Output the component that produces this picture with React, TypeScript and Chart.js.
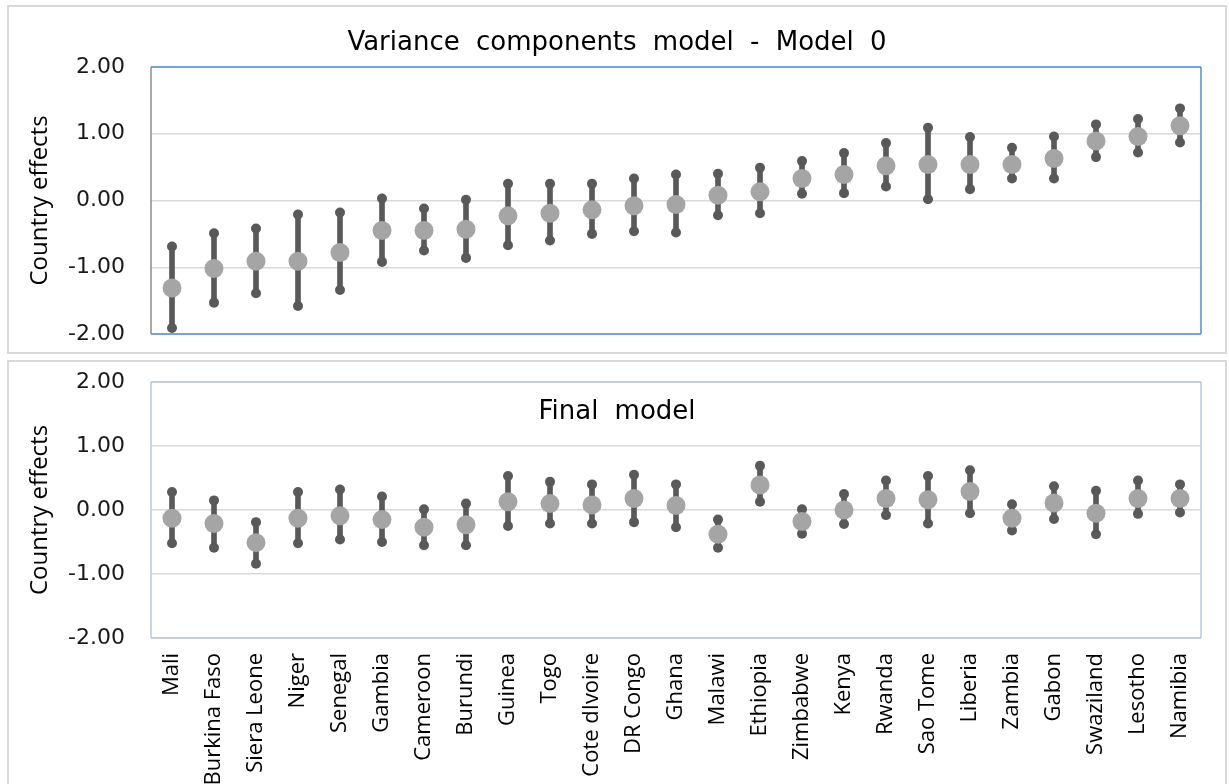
import React, { useEffect, useRef } from "react";
import { Chart, registerables } from "chart.js";

Chart.register(...registerables);

const countries = [
  "Mali", "Burkina Faso", "Siera Leone", "Niger", "Senegal", "Gambia", "Cameroon",
  "Burundi", "Guinea", "Togo", "Cote dIvoire", "DR Congo", "Ghana", "Malawi",
  "Ethiopia", "Zimbabwe", "Kenya", "Rwanda", "Sao Tome", "Liberia", "Zambia",
  "Gabon", "Swaziland", "Lesotho", "Namibia",
];

const model0Effect = [-1.31, -1.02, -0.91, -0.91, -0.78, -0.45, -0.45, -0.43, -0.23, -0.19, -0.14, -0.08, -0.06, 0.08, 0.13, 0.33, 0.39, 0.52, 0.54, 0.54, 0.54, 0.63, 0.89, 0.96, 1.12];
const model0Lower = [-1.91, -1.53, -1.39, -1.58, -1.34, -0.92, -0.75, -0.86, -0.67, -0.6, -0.5, -0.46, -0.48, -0.22, -0.19, 0.1, 0.11, 0.21, 0.02, 0.17, 0.33, 0.33, 0.65, 0.72, 0.87];
const model0Upper = [-0.69, -0.49, -0.42, -0.21, -0.18, 0.03, -0.12, 0.01, 0.25, 0.25, 0.25, 0.33, 0.39, 0.4, 0.49, 0.59, 0.71, 0.86, 1.09, 0.95, 0.79, 0.96, 1.14, 1.22, 1.38];

const finalEffect = [-0.13, -0.21, -0.51, -0.13, -0.09, -0.15, -0.27, -0.23, 0.13, 0.1, 0.08, 0.18, 0.07, -0.38, 0.39, -0.18, 0.0, 0.18, 0.16, 0.29, -0.13, 0.11, -0.05, 0.18, 0.18];
const finalLower = [-0.52, -0.59, -0.84, -0.52, -0.46, -0.5, -0.55, -0.55, -0.25, -0.21, -0.21, -0.19, -0.27, -0.59, 0.13, -0.37, -0.22, -0.08, -0.21, -0.05, -0.32, -0.14, -0.38, -0.06, -0.04];
const finalUpper = [0.28, 0.15, -0.19, 0.28, 0.32, 0.21, 0.01, 0.1, 0.53, 0.44, 0.4, 0.55, 0.4, -0.15, 0.69, 0.01, 0.25, 0.46, 0.53, 0.62, 0.09, 0.37, 0.3, 0.46, 0.4];

const yTickValues = [-2, -1, 0, 1, 2];

const WIDE = "'DejaVu Sans', 'Open Sans', sans-serif";
const NARROW = "'Open Sans', 'DejaVu Sans', sans-serif";

const framePlugin = {
  id: "plotFrame",
  beforeDraw(chart: any) {
    // widen the word gaps of the chart title only
    const tb = chart.titleBlock;
    if (tb && !tb.__wideWords) {
      const orig = tb.draw.bind(tb);
      tb.draw = (...args: any[]) => {
        const ctx = chart.ctx;
        const prev = ctx.wordSpacing;
        ctx.wordSpacing = "8px";
        orig(...args);
        ctx.wordSpacing = prev || "0px";
      };
      tb.__wideWords = true;
    }
  },
  beforeDatasetsDraw(chart: any, _args: any, opts: any) {
    const { ctx, chartArea: a } = chart;
    ctx.save();
    ctx.lineWidth = opts.width ?? 1.5;
    const seg = (c: string, x1: number, y1: number, x2: number, y2: number) => {
      ctx.strokeStyle = c;
      ctx.beginPath();
      ctx.moveTo(x1, y1);
      ctx.lineTo(x2, y2);
      ctx.stroke();
    };
    seg(opts.top, a.left, a.top, a.right, a.top);
    seg(opts.right, a.right, a.top, a.right, a.bottom);
    seg(opts.bottom, a.left, a.bottom, a.right, a.bottom);
    seg(opts.left, a.left, a.top, a.left, a.bottom);
    ctx.restore();
  },
};

type PanelCfg = {
  effect: number[];
  lower: number[];
  upper: number[];
  title: string;
  titlePadding: { top: number; bottom: number };
  showX: boolean;
  xHeight: number;
  paddingBottom: number;
  frame: { top: string; right: string; bottom: string; left: string };
};

function makeConfig(p: PanelCfg): any {
  return {
    type: "bar",
    data: {
      labels: countries,
      datasets: [
        {
          type: "line",
          label: "effect",
          data: p.effect,
          showLine: false,
          pointRadius: 9.5,
          pointHoverRadius: 9.5,
          pointBackgroundColor: "#a5a5a5",
          pointBorderWidth: 0,
          order: 1,
        },
        {
          type: "line",
          label: "upper",
          data: p.upper,
          showLine: false,
          pointRadius: 5,
          pointHoverRadius: 5,
          pointBackgroundColor: "#595959",
          pointBorderWidth: 0,
          order: 2,
        },
        {
          type: "line",
          label: "lower",
          data: p.lower,
          showLine: false,
          pointRadius: 5,
          pointHoverRadius: 5,
          pointBackgroundColor: "#595959",
          pointBorderWidth: 0,
          order: 2,
        },
        {
          type: "bar",
          label: "interval",
          data: p.lower.map((l, i) => [l, p.upper[i]]),
          backgroundColor: "#595959",
          borderWidth: 0,
          barThickness: 5,
          order: 3,
        },
      ],
    },
    options: {
      responsive: true,
      maintainAspectRatio: false,
      animation: false,
      events: [],
      layout: { padding: { left: 0, right: 0, top: 0, bottom: p.paddingBottom } },
      plugins: {
        legend: { display: false },
        tooltip: { enabled: false },
        title: {
          display: true,
          text: p.title,
          color: "#000000",
          font: { family: WIDE, size: 26, weight: "normal", lineHeight: 1.2 },
          padding: p.titlePadding,
        },
        plotFrame: { ...p.frame, width: 1.5 },
      },
      scales: {
        x: {
          type: "category",
          display: p.showX,
          offset: true,
          grid: { display: false, drawTicks: false },
          border: { display: false },
          afterFit: (s: any) => {
            s.height = p.xHeight;
            s.paddingLeft = 0;
            s.paddingRight = 0;
          },
          ticks: {
            autoSkip: false,
            maxRotation: 90,
            minRotation: 90,
            padding: 15,
            color: "#000000",
            font: { family: NARROW, size: 22 },
          },
        },
        y: {
          min: -2,
          max: 2,
          afterBuildTicks: (s: any) => {
            s.ticks = yTickValues.map((v) => ({ value: v }));
          },
          afterFit: (s: any) => {
            s.width = 142;
            s.paddingTop = 0;
            s.paddingBottom = 0;
          },
          grid: { color: "#d9d9d9", lineWidth: 1.5, drawTicks: false },
          border: { display: false },
          ticks: {
            padding: 26,
            color: "#1a1a1a",
            font: { family: WIDE, size: 22 },
            callback: (v: any) => Number(v).toFixed(2),
          },
          title: {
            display: true,
            text: "Country effects",
            color: "#000000",
            font: { family: NARROW, size: 24, lineHeight: 1.2 },
            padding: { top: 16.6, bottom: 0 },
          },
        },
        yRight: {
          position: "right",
          min: -2,
          max: 2,
          grid: { display: false, drawTicks: false },
          border: { display: false },
          ticks: { display: false },
          afterFit: (s: any) => {
            s.width = 24;
            s.paddingTop = 0;
            s.paddingBottom = 0;
          },
        },
      },
    },
    plugins: [framePlugin],
  };
}

function ChartCanvas({ cfg }: { cfg: PanelCfg }) {
  const ref = useRef<HTMLCanvasElement | null>(null);
  useEffect(() => {
    if (!ref.current) return;
    const chart = new Chart(ref.current, makeConfig(cfg));
    return () => chart.destroy();
  }, []);
  return <canvas ref={ref} />;
}

const topCfg: PanelCfg = {
  effect: model0Effect,
  lower: model0Lower,
  upper: model0Upper,
  title: "Variance components model - Model 0",
  titlePadding: { top: 20.4, bottom: 8.4 },
  showX: false,
  xHeight: 0,
  paddingBottom: 18,
  frame: { top: "#4f8fd2", right: "#4f8fd2", bottom: "#4f8fd2", left: "#8c8c8c" },
};

const bottomCfg: PanelCfg = {
  effect: finalEffect,
  lower: finalLower,
  upper: finalUpper,
  title: "Final model",
  titlePadding: { top: 34.4, bottom: -45.6 },
  showX: true,
  xHeight: 146,
  paddingBottom: 0,
  frame: { top: "#b8c7dc", right: "#b8c7dc", bottom: "#b8c7dc", left: "#b8c7dc" },
};

export default function App() {
  return (
    <div
      style={{
        position: "absolute",
        left: 0,
        top: 0,
        width: 1229,
        height: 784,
        overflow: "hidden",
        background: "#ffffff",
      }}
    >
      <div
        style={{
          position: "absolute",
          left: 7,
          top: 5,
          width: 1220,
          height: 349,
          boxSizing: "border-box",
          border: "2px solid #d9d9d9",
        }}
      />
      <div
        style={{
          position: "absolute",
          left: 7,
          top: 360,
          width: 1220,
          height: 460,
          boxSizing: "border-box",
          border: "2px solid #d9d9d9",
        }}
      />
      <div style={{ position: "absolute", left: 9, top: 7, width: 1216, height: 345 }}>
        <ChartCanvas cfg={topCfg} />
      </div>
      <div style={{ position: "absolute", left: 9, top: 362, width: 1216, height: 422 }}>
        <ChartCanvas cfg={bottomCfg} />
      </div>
    </div>
  );
}
